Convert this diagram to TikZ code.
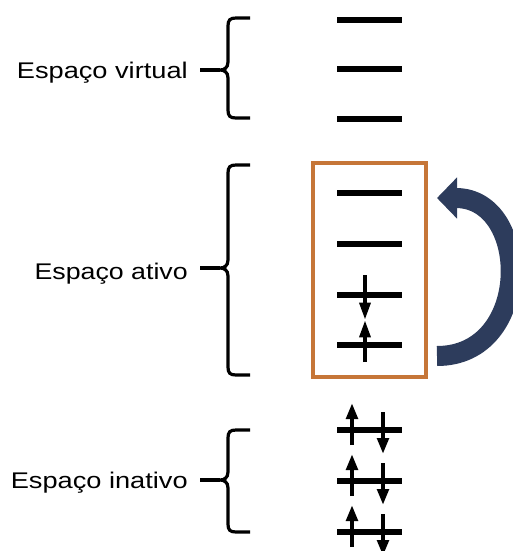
\documentclass[tikz,border=0pt]{standalone}
\usepackage{fontspec}
\usepackage{graphicx}
\setmainfont{Liberation Sans}
\usetikzlibrary{arrows.meta}
\definecolor{boxorange}{RGB}{198,118,56}
\definecolor{loopnavy}{RGB}{45,60,92}

% curly bracket: top y, tip y, bottom y; the tip gets a coordinate name
\newcommand\spacebracket[4]{%
  \draw[bracket] (250,#1) -- (236,#1) .. controls (230,#1) and (228,#1+2) .. (228,#1+8)
    -- (228,#2-8) .. controls (228,#2-2) and (224,#2) .. (220,#2)
    .. controls (224,#2) and (228,#2+2) .. (228,#2+8)
    -- (228,#3-8) .. controls (228,#3-2) and (230,#3) .. (236,#3) -- (250,#3);
  \coordinate (#4) at (220,#2);}

\begin{document}
\begin{tikzpicture}[x=0.75pt,y=-0.75pt,
  level/.style={line width=4.5pt},
  bracket/.style={line width=2.4pt},
  spacelabel/.style={anchor=base east, inner sep=0pt, font=\fontsize{17pt}{20pt}\selectfont},
  spin/.style={line width=3pt, -{Triangle[length=13pt,width=8pt]}},
  pairspin/.style={line width=3pt, -{Triangle[length=12pt,width=8.5pt]}},
  loop/.style={draw=loopnavy, line width=15pt, -{Triangle[length=15pt,width=30pt]}}]
\useasboundingbox (0,0) rectangle (512,551);

% labels
\node[spacelabel] (vlabel) at (188,78)  {\scalebox{1.2}[1]{Espaço virtual}};
\node[spacelabel] (alabel) at (188,279) {\scalebox{1.18}[1]{Espaço ativo}};
\node[spacelabel] (ilabel) at (188,488) {\scalebox{1.2}[1]{Espaço inativo}};

% brackets and their leader lines
\spacebracket{18}{70}{118}{vtip}
\spacebracket{165}{268}{375}{atip}
\spacebracket{430}{480}{532}{itip}
\draw[bracket] ([xshift=9pt]vlabel.east |- vtip) -- (vtip);
\draw[bracket] ([xshift=9pt]alabel.east |- atip) -- (atip);
\draw[bracket] ([xshift=9pt]ilabel.east |- itip) -- (itip);

% virtual levels
\foreach \y in {20,69,119} \draw[level] (337,\y) -- (402,\y);

% active space box and levels
\node[draw=boxorange, line width=2.4pt, minimum width=84.75pt, minimum height=160.5pt,
      inner sep=0pt, outer sep=0pt] (activebox) at (369.5,270) {};
\foreach \y in {193,244,295,345} \draw[level] (337,\y) -- (402,\y);
\draw[spin] (365,275) -- (365,320);
\draw[spin] (365,362) -- (365,320);

% inactive (doubly occupied) levels
\foreach \y in {430,481,532} {
  \draw[level] (337,\y) -- (402,\y);
  \draw[pairspin] (352,\y+15) -- (352,\y-27);
  \draw[pairspin] (383,\y-18) -- (383,\y+24);
}

% rotation arrow beside the active space
\coordinate (loopstart) at (437,356);
\coordinate (loopend) at (437,198);
\draw[loop] (loopstart) .. controls (533,356) and (531,198) .. (loopend);
\end{tikzpicture}
\end{document}
